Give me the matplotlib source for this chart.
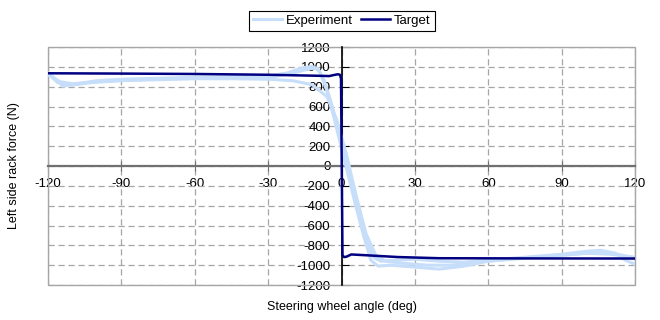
import matplotlib
matplotlib.use('Agg')
import matplotlib.pyplot as plt
from matplotlib.patches import Rectangle

plt.rcParams['font.family'] = ['Liberation Sans', 'DejaVu Sans']

# ---- data ----
x_ticks = [-120, -90, -60, -30, 0, 30, 60, 90, 120]
y_ticks = [-1200, -1000, -800, -600, -400, -200, 0, 200, 400, 600, 800, 1000, 1200]

exp_a_x = [-120, -117, -114, -108, -100, -90, -75, -60, -45, -30, -22, -16, -12, -9, -6, -3, 0, 3, 6, 9, 12, 15, 20, 30, 40, 50, 60, 75, 90, 100, 106, 112, 116, 120]
exp_a_y = [940, 880, 805, 830, 860, 875, 885, 895, 900, 905, 940, 990, 1005, 960, 760, 480, 180, -120, -420, -700, -950, -1010, -1000, -1020, -1040, -1010, -960, -920, -890, -860, -850, -880, -950, -990]

exp_b_x = [-120, -115, -110, -100, -90, -75, -60, -45, -30, -20, -12, -6, -2, 2, 6, 10, 14, 18, 25, 35, 45, 60, 75, 90, 100, 108, 115, 120]
exp_b_y = [920, 850, 830, 845, 860, 870, 880, 880, 875, 860, 820, 700, 470, 120, -300, -680, -900, -960, -980, -1000, -1000, -960, -930, -900, -880, -870, -900, -940]

exp_c_x = [-120, -116, -110, -100, -85, -70, -55, -40, -28, -20, -14, -10, -7, -4, -1, 2, 5, 8, 11, 13, 16, 22, 30, 40, 50, 60, 70, 80, 90, 100, 110, 120]
exp_c_y = [930, 840, 815, 850, 870, 880, 885, 895, 900, 935, 975, 990, 860, 620, 340, 60, -240, -520, -800, -920, -960, -950, -940, -960, -970, -950, -930, -920, -900, -880, -890, -920]

target_x = [-120, -90, -60, -30, -10, -5, -3, -1.5, -0.6, -0.2, 0.1, 0.4, 1, 2, 4, 10, 23, 40, 80, 120]
target_y = [935, 932, 928, 920, 910, 907, 918, 925, 920, 880, 0, -900, -918, -915, -892, -900, -918, -930, -932, -933]

# ---- figure ----
fig = plt.figure(figsize=(6.6, 3.2), dpi=100)
ax = fig.add_axes([48 / 660, 1 - 285 / 320, (635 - 48) / 660, (285 - 47) / 320])

exp_color = '#c6defa'
first = True
for xs, ys in [(exp_a_x, exp_a_y), (exp_b_x, exp_b_y), (exp_c_x, exp_c_y)]:
    ax.plot(xs, ys, color=exp_color, lw=2.2, solid_joinstyle='round',
            zorder=3, label='Experiment' if first else None)
    first = False
ax.plot(target_x, target_y, color='#000080', lw=1.8, zorder=4, label='Target')

ax.set_xlim(-120, 120)
ax.set_ylim(-1200, 1200)
ax.set_xticks(x_ticks)
ax.set_xticklabels([str(v) for v in x_ticks])
ax.set_yticks(y_ticks)
ax.set_yticklabels([str(v) for v in y_ticks])

ax.spines['left'].set_position(('data', 0))
ax.spines['bottom'].set_position(('data', 0))
ax.spines['left'].set_color('black')
ax.spines['left'].set_linewidth(1.2)
ax.spines['bottom'].set_color('#707070')
ax.spines['bottom'].set_linewidth(1.6)
ax.spines['top'].set_visible(False)
ax.spines['right'].set_visible(False)
ax.spines['left'].set_zorder(2)
ax.spines['bottom'].set_zorder(2)

ax.add_patch(Rectangle((0, 0), 1, 1, transform=ax.transAxes, fill=False,
                       ec='#a6a6a6', lw=1.0, zorder=1, clip_on=False))

ax.grid(True, ls=(0, (5, 3)), color='#a6a6a6', lw=0.9, zorder=0)
ax.set_axisbelow(True)

ax.tick_params(axis='y', direction='in', length=5, pad=8, labelsize=9.5, color='black')
ax.tick_params(axis='x', direction='inout', length=7, pad=5, labelsize=9.5, color='#707070')

leg = fig.legend(loc='upper center', bbox_to_anchor=(342 / 660, 1 - 4 / 320), ncol=2,
                 frameon=True, fancybox=False, edgecolor='black', framealpha=1,
                 fontsize=9.5, handlelength=2.2, handletextpad=0.3,
                 columnspacing=0.6, borderpad=0.3)
leg.get_frame().set_linewidth(0.8)

fig.text(342 / 660, 1 - 307 / 320, 'Steering wheel angle (deg)', ha='center', va='center', fontsize=9)
fig.text(14 / 660, 1 - 166 / 320, 'Left side rack force (N)', ha='center', va='center',
         rotation=90, fontsize=9)

fig.savefig('out.png', dpi=100)
